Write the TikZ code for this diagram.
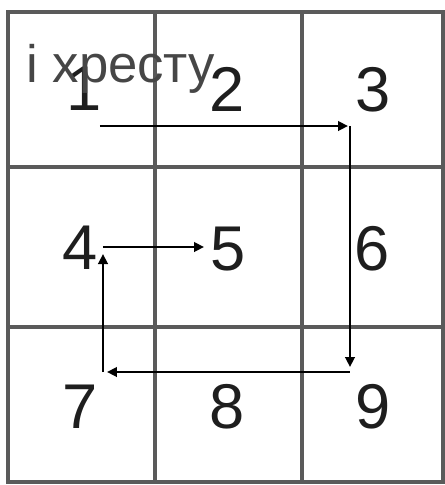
\documentclass[tikz,border=0pt]{standalone}
\usepackage{fontspec}
\setmainfont{Liberation Sans}
\usetikzlibrary{arrows.meta, positioning}
\definecolor{gridcolor}{RGB}{90,90,90}
\definecolor{digitcolor}{RGB}{30,30,30}
\definecolor{notecolor}{RGB}{70,70,70}
\tikzset{
    gridline/.style={draw=gridcolor, line width=2pt},
    digit/.style={inner sep=0pt, text=digitcolor, font=\fontsize{36}{36}\selectfont},
    note/.style={inner sep=0pt, anchor=base west, text=notecolor, font=\fontsize{30}{30}\selectfont},
    arrow/.style={-{Triangle[length=2mm, width=1.9mm]}, line width=1.6pt}
}

\begin{document}
\begin{tikzpicture}[x=0.02cm, y=-0.02cm]
    \useasboundingbox (0,0) rectangle (445,485);

    % grid
    \draw[gridline] (8,12) rectangle (443,482);
    \draw[gridline] (155,12) -- (155,482);
    \draw[gridline] (302,12) -- (302,482);
    \draw[gridline] (8,167) -- (443,167);
    \draw[gridline] (8,327) -- (443,327);

    % cell numbers
    \node[digit] (n1) at (84,89) {1};
    \node[digit] (n2) at (227,89) {2};
    \node[digit] (n3) at (373,90) {3};
    \node[digit] (n4) at (80,248) {4};
    \node[digit] (n5) at (228,249) {5};
    \node[digit] (n6) at (372,249) {6};
    \node[digit] (n7) at (80,407) {7};
    \node[digit] (n8) at (227,407) {8};
    \node[digit] (n9) at (373,407) {9};

    \node[note] (cap) at (26,82) {і хресту};

    % path points
    \coordinate (s1) at (100,126);
    \coordinate (t3) at (348,126);
    \coordinate (s3) at (350,126);
    \coordinate (t9) at (350,367);
    \coordinate (s9) at (350,372);
    \coordinate (t7) at (107,372);
    \coordinate (s7) at (103,372);
    \coordinate (t4) at (103,254);
    \coordinate (s4) at (103,247);
    \coordinate (t5) at (204,247);

    \draw[arrow] (s1) -- (t3);
    \draw[arrow] (s3) -- (t9);
    \draw[arrow] (s9) -- (t7);
    \draw[arrow] (s7) -- (t4);
    \draw[arrow] (s4) -- (t5);

\end{tikzpicture}
\end{document}
